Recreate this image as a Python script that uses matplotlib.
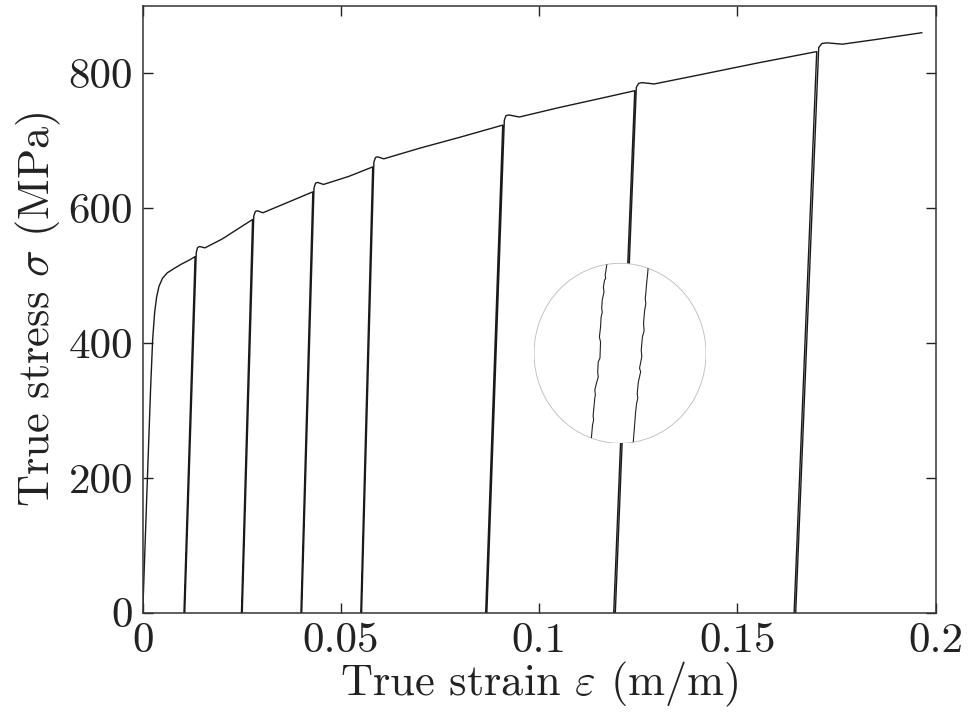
import numpy as np
import matplotlib.pyplot as plt
from matplotlib.patches import Ellipse

plt.rcParams['font.family'] = 'serif'
plt.rcParams['font.serif'] = ['cmr10']
plt.rcParams['mathtext.fontset'] = 'cm'
plt.rcParams['axes.formatter.use_mathtext'] = True

# initial monotonic loading up to the first unloading point
load_strain = [0, 0.0010, 0.0020, 0.0025, 0.0030, 0.0035, 0.0041, 0.0050, 0.0062, 0.0078, 0.0098, 0.0118]
load_stress = [0, 170, 335, 405, 445, 468, 484, 496, 504, 510, 517, 523]

# unload / reload cycles
peak_strain = [0.0132, 0.0277, 0.0429, 0.0580, 0.0908, 0.1241, 0.1700]
peak_stress = [528, 583, 624, 661, 723, 774, 832]
zero_strain = [0.0104, 0.0249, 0.0399, 0.0550, 0.0865, 0.1188, 0.1643]
reload_strain = [0.0106, 0.0251, 0.0401, 0.0552, 0.0868, 0.1192, 0.1647]
shoulder_strain = [0.0135, 0.0280, 0.0432, 0.0583, 0.0912, 0.1245, 0.1705]
shoulder_stress = [534, 588, 630, 668, 730, 779, 838]
top_strain = [0.0138, 0.0284, 0.0436, 0.0587, 0.0916, 0.1251, 0.1713]
top_stress = [541, 595, 637, 675, 737, 785, 844]
bump_strain = [0.0143, 0.0289, 0.0441, 0.0592, 0.0924, 0.1260, 0.1726]
bump_stress = [543, 596, 638, 676, 738, 786, 845]
dip_strain = [0.0157, 0.0303, 0.0456, 0.0608, 0.0950, 0.1290, 0.1765]
dip_stress = [541, 593, 635, 673, 735, 784, 843]

# hardening points after each reload, before the next unloading
hard_strain = [[0.0200], [0.0360], [0.0520], [0.0700, 0.0800], [0.1050, 0.1150], [0.1400, 0.1550], [0.1850]]
hard_stress = [[554], [607], [647], [689, 705], [749, 762], [797, 815], [850]]

end_strain = 0.1965
end_stress = 860

# magnified view in the circle
zoom_left_strain = [0.12077, 0.12075, 0.12074, 0.12075, 0.12073, 0.12071, 0.12072, 0.12069, 0.12068, 0.12069,
                    0.12067, 0.12066, 0.12064, 0.12066, 0.12065, 0.12062, 0.12061, 0.12062, 0.12059, 0.12056,
                    0.12057, 0.12056, 0.12054, 0.12053, 0.12054, 0.12052, 0.12050]
zoom_left_stress = [459.4, 452.0, 449.6, 446.5, 445.2, 438.9, 434.5, 427.4, 420.0, 416.5,
                    412.3, 403.4, 394.5, 390.0, 375.8, 372.3, 363.4, 359.0, 353.6, 347.4,
                    343.0, 340.3, 329.6, 324.0, 321.0, 316.2, 304.7]
zoom_right_strain = [0.12149, 0.12148, 0.12147, 0.12146, 0.12145, 0.12144, 0.12145, 0.12143, 0.12141, 0.12142,
                     0.12139, 0.12137, 0.12138, 0.12134, 0.12136, 0.12132, 0.12130, 0.12131, 0.12129, 0.12127,
                     0.12126, 0.12125, 0.12123]
zoom_right_stress = [455.6, 450.0, 445.2, 440.0, 433.3, 428.9, 424.0, 418.5, 406.7, 400.0,
                     394.5, 382.9, 377.0, 366.7, 363.6, 354.5, 344.4, 340.0, 335.8, 326.7,
                     320.0, 313.6, 300.5]

x_ticks = [0, 0.05, 0.1, 0.15, 0.2]
x_tick_labels = ['0', '0.05', '0.1', '0.15', '0.2']
y_ticks = [0, 200, 400, 600, 800]
y_tick_labels = ['0', '200', '400', '600', '800']

strain = list(load_strain)
stress = list(load_stress)
for i in range(len(peak_strain)):
    strain += [peak_strain[i], zero_strain[i], reload_strain[i], shoulder_strain[i], top_strain[i], bump_strain[i], dip_strain[i]]
    stress += [peak_stress[i], 0, 0, shoulder_stress[i], top_stress[i], bump_stress[i], dip_stress[i]]
    strain += hard_strain[i]
    stress += hard_stress[i]
strain.append(end_strain)
stress.append(end_stress)

fig = plt.figure(figsize=(9.71, 7.18), dpi=100)
ax = fig.add_axes([0.147, 0.1467, 0.8166, 0.8453])
ax.plot(strain, stress, color='#1a1a1a', lw=1.0)

ax.set_xlim(0, 0.2)
ax.set_ylim(0, 900)
ax.set_xticks(x_ticks)
ax.set_xticklabels(x_tick_labels)
ax.set_yticks(y_ticks)
ax.set_yticklabels(y_tick_labels)
ax.tick_params(direction='in', top=True, right=True, length=7, width=1, labelsize=31, pad=7, colors='#222222')
for s in ax.spines.values():
    s.set_linewidth(1.1)
    s.set_color('#333333')
ax.set_xlabel(r'True strain $\varepsilon$ (m/m)', fontsize=32, labelpad=0, color='#222222')
ax.set_ylabel(r'True stress $\sigma$ (MPa)', fontsize=32, labelpad=4, color='#222222')

# circular zoom inset
ins = fig.add_axes([0.55, 0.3826, 0.1771, 0.2507])
ins.set_axis_off()
circle = Ellipse((0.5, 0.5), 1, 1, transform=ins.transAxes, facecolor='white', edgecolor='#bbbbbb', lw=0.6, zorder=0)
ins.add_patch(circle)
l1, = ins.plot(zoom_left_strain, zoom_left_stress, color='#222222', lw=0.8)
l2, = ins.plot(zoom_right_strain, zoom_right_stress, color='#222222', lw=0.8)
l1.set_clip_path(circle)
l2.set_clip_path(circle)
ins.set_xlim(0.1195, 0.1225)
ins.set_ylim(300, 460)

fig.savefig('out.png', dpi=100)
